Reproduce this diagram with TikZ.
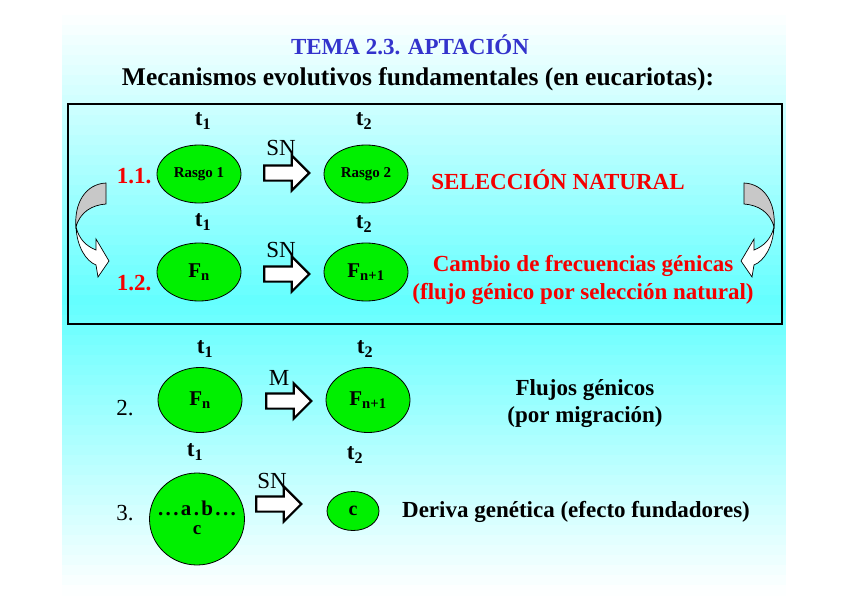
\documentclass[tikz,border=0pt]{standalone}
\usepackage{fontspec}
\setmainfont{Liberation Serif}
\usepackage{tikz}
\usetikzlibrary{shapes.geometric}
\usetikzlibrary{shapes.arrows}
\definecolor{cy}{RGB}{100,255,255}
\definecolor{tema}{RGB}{51,51,204}
\definecolor{gr}{RGB}{0,240,0}
\definecolor{rj}{RGB}{245,0,0}
\definecolor{gris}{RGB}{200,200,200}
\newcommand{\fsz}[1]{\fontsize{#1}{#1}\selectfont}
\tikzstyle{pop}=[ellipse, draw=black, fill=gr, inner sep=0pt, line width=.8pt]
\tikzstyle{flecha}=[single arrow, draw=black, fill=white, line width=2.2pt, inner sep=6.5pt, single arrow head extend=10pt, minimum height=45pt]
\tikzstyle{tiempo}=[font=\bfseries\fsz{23}]
\tikzstyle{num}=[font=\fsz{23}]

\begin{document}
\begin{tikzpicture}[x=1pt, y=-1pt]

      \useasboundingbox (0,0) rectangle (848,599);
      % fondo
      \foreach \i in {0,...,57}
      {
        \pgfmathsetmacro{\y}{15+10*\i}
        \pgfmathsetmacro{\p}{max(0,100*(1-abs(\y+5-303)/290))}
        \fill[cy!\p!white] (62,\y) rectangle (786,{\y+10.6});
      }

      \node[text=tema, font=\bfseries\fsz{23}] (tema) at (410,45) {TEMA 2.3. APTACIÓN};
      \node[font=\bfseries\fsz{25.5}] (mec) at (418,79) {Mecanismos evolutivos fundamentales (en eucariotas):};

      \draw[line width=2.2pt] (68,104) rectangle (782,324);

      % 1.1
      \node[tiempo] (t11) at (203,121) {t\textsubscript{1}};
      \node[tiempo] (t12) at (364,121) {t\textsubscript{2}};
      \node[text=rj, font=\bfseries\fsz{23}] (n11) at (134,176) {1.1.};
      \node[pop, minimum width=84pt, minimum height=58pt, font=\bfseries\fsz{15}] (r1) at (199,174) {Rasgo 1};
      \node[pop, minimum width=84pt, minimum height=58pt, font=\bfseries\fsz{15}] (r2) at (366,174) {Rasgo 2};
      \node[flecha] (a1) at (283,173) {};
      \node[num] (sn1) at (281,148) {SN};
      \node[text=rj, font=\bfseries\fsz{23}] (sel) at (558,180) {SELECCIÓN NATURAL};

      % 1.2
      \node[tiempo] (t21) at (203,222) {t\textsubscript{1}};
      \node[tiempo] (t22) at (364,224) {t\textsubscript{2}};
      \node[text=rj, font=\bfseries\fsz{23}] (n12) at (134,283) {1.2.};
      \node[pop, minimum width=84pt, minimum height=58pt, font=\bfseries\fsz{21}] (f1) at (199,272) {F\textsubscript{n}};
      \node[pop, minimum width=84pt, minimum height=58pt, font=\bfseries\fsz{21}] (f2) at (366,272) {F\textsubscript{n+1}};
      \node[flecha] (a2) at (283,274) {};
      \node[num] (sn2) at (281,250) {SN};
      \node[text=rj, font=\bfseries\fsz{23}] (cf1) at (583,266) {Cambio de frecuencias génicas};
      \node[text=rj, font=\bfseries\fsz{23}] (cf2) at (583,294) {(flujo génico por selección natural)};

      % flechas curvas
      \foreach \s/\o in {1/0, -1/850}
      {
        \begin{scope}[shift={(\o,0)}, xscale=\s]
          \draw[fill=gris, line width=.7pt] (106,183) .. controls (85,184) and (74,204) .. (76,227)
            .. controls (80,212) and (92,205) .. (106,204) -- cycle;
          \draw[fill=white, line width=.7pt] (76,227) .. controls (77,247) and (86,261) .. (96,265)
            -- (98,277) -- (109,261) -- (96,239) -- (96,250) .. controls (86,246) and (79,239) .. (76,227) -- cycle;
        \end{scope}
      }

      % 2
      \node[tiempo] (t31) at (205,349) {t\textsubscript{1}};
      \node[tiempo] (t32) at (365,349) {t\textsubscript{2}};
      \node[num] (n2) at (125,408) {2.};
      \node[pop, minimum width=84pt, minimum height=65pt, font=\bfseries\fsz{21}] (g1) at (200,400) {F\textsubscript{n}};
      \node[pop, minimum width=84pt, minimum height=65pt, font=\bfseries\fsz{21}] (g2) at (368,400) {F\textsubscript{n+1}};
      \node[flecha] (a3) at (285,401) {};
      \node[num] (m) at (279,378) {M};
      \node[font=\bfseries\fsz{23}] (fl1) at (585,390) {Flujos génicos};
      \node[font=\bfseries\fsz{23}] (fl2) at (585,417) {(por migración)};

      % 3
      \node[tiempo] (t41) at (195,452) {t\textsubscript{1}};
      \node[tiempo] (t42) at (355,455) {t\textsubscript{2}};
      \node[num] (n3) at (125,513) {3.};
      \node[pop, minimum width=95pt, minimum height=92pt] (h1) at (197,519) {};
      \node[font=\bfseries\fsz{21}] (ab) at (197,508) {\makebox[78pt]{.\hfill.\hfill.\hfill a\hfill.\hfill b\hfill.\hfill.\hfill.}};
      \node[font=\bfseries\fsz{19}] (c1) at (197,530) {c};
      \node[pop, minimum width=52pt, minimum height=39pt, font=\bfseries\fsz{20}] (h2) at (353,511) {c};
      \node[flecha] (a4) at (275,504) {};
      \node[num] (sn4) at (272,481) {SN};
      \node[font=\bfseries\fsz{23}] (der) at (576,512) {Deriva genética (efecto fundadores)};

\end{tikzpicture}
\end{document}
